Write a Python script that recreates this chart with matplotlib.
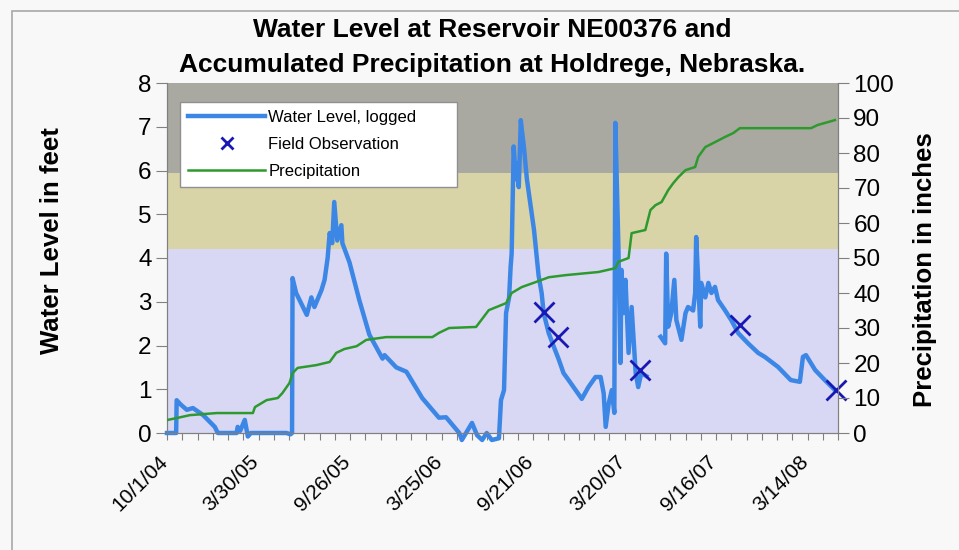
import numpy as np
import matplotlib
matplotlib.use("Agg")
import matplotlib.pyplot as plt
from matplotlib.lines import Line2D
from matplotlib.patches import Rectangle
from matplotlib.transforms import ScaledTranslation

plt.rcParams['font.family'] = ['Liberation Sans', 'DejaVu Sans']

# logged water level (feet)
level_dates = [
    "2004-10-01", "2004-10-19", "2004-10-20", "2004-10-28", "2004-11-09", "2004-11-21",
    "2004-12-11", "2005-01-03", "2005-01-09", "2005-02-15", "2005-02-17", "2005-02-22",
    "2005-03-03", "2005-03-09", "2005-03-15", "2005-05-24", "2005-06-01", "2005-06-04",
    "2005-06-05", "2005-06-12", "2005-07-03", "2005-07-12", "2005-07-18", "2005-08-01",
    "2005-08-07", "2005-08-13", "2005-08-17", "2005-08-22", "2005-08-26", "2005-09-01",
    "2005-09-09", "2005-09-11", "2005-09-25", "2005-10-14", "2005-11-03", "2005-11-29",
    "2005-12-03", "2005-12-26", "2006-01-15", "2006-02-15", "2006-03-20", "2006-04-03",
    "2006-04-29", "2006-05-04", "2006-05-24", "2006-06-03", "2006-06-13", "2006-06-22",
    "2006-07-02", "2006-07-16", "2006-07-20", "2006-07-26", "2006-07-30", "2006-08-05",
    "2006-08-08", "2006-08-10", "2006-08-14", "2006-08-18", "2006-08-20", "2006-08-24",
    "2006-08-28", "2006-08-30", "2006-09-03", "2006-09-09", "2006-09-23", "2006-10-02",
    "2006-10-08", "2006-10-12", "2006-10-22", "2006-11-01", "2006-11-11", "2006-11-20",
    "2006-11-30", "2006-12-14", "2006-12-26", "2007-01-08", "2007-01-22", "2007-02-01",
    "2007-02-07", "2007-02-11", "2007-02-17", "2007-02-23", "2007-02-28", "2007-03-02",
    "2007-03-08", "2007-03-12", "2007-03-14", "2007-03-18", "2007-03-22", "2007-03-28",
    "2007-04-03", "2007-04-11", "2007-04-16", "2007-04-22", "2007-05-02", "2007-05-15",
    "2007-05-30", "2007-06-08", "2007-06-10", "2007-06-14", "2007-06-20", "2007-06-26",
    "2007-06-30", "2007-07-10", "2007-07-18", "2007-07-23", "2007-08-02", "2007-08-06",
    "2007-08-08", "2007-08-12", "2007-08-16", "2007-08-18", "2007-08-26", "2007-09-01",
    "2007-09-07", "2007-09-14", "2007-09-20", "2007-10-04", "2007-10-16", "2007-10-30",
    "2007-11-18", "2007-12-08", "2007-12-21", "2008-01-16", "2008-02-10", "2008-02-28",
    "2008-03-05", "2008-03-11", "2008-03-29", "2008-04-17", "2008-05-07",
]
level_values = [
    0.0, 0.0, 0.75, 0.65, 0.53, 0.57,
    0.41, 0.14, 0.0, 0.0, 0.14, 0.05,
    0.3, -0.08, 0.0, 0.0, -0.03, 0.0,
    3.54, 3.2, 2.7, 3.1, 2.88, 3.27,
    3.5, 4.0, 4.57, 4.34, 5.28, 4.4,
    4.75, 4.34, 3.9, 3.05, 2.25, 1.7,
    1.78, 1.5, 1.4, 0.8, 0.35, 0.36,
    0.0, -0.16, 0.23, -0.05, -0.16, 0.0,
    -0.16, -0.12, 0.75, 0.98, 2.74, 3.1,
    3.8, 4.1, 6.55, 5.8, 6.17, 5.62,
    7.15, 6.93, 6.55, 5.8, 4.64, 3.6,
    3.2, 2.74, 2.28, 1.97, 1.67, 1.37,
    1.21, 0.98, 0.78, 1.05, 1.28, 1.28,
    0.91, 0.14, 0.68, 0.98, 0.46, 7.09,
    4.25, 1.6, 3.73, 2.74, 3.5, 1.83,
    2.88, 1.37, 1.05, 1.37, 1.3, np.nan,
    2.2, 2.05, 4.1, 2.43, 2.74, 3.5,
    2.58, 2.13, 2.74, 2.88, 2.8, 3.2,
    4.48, 3.5, 2.43, 3.43, 3.1, 3.43,
    3.2, 3.34, 3.04, 2.8, 2.58, 2.28,
    2.05, 1.83, 1.74, 1.51, 1.21, 1.17,
    1.74, 1.78, 1.44, 1.21, 0.98,
]

# field observations (feet)
obs_dates = ["2006-10-12", "2006-11-09", "2007-04-20", "2007-11-02", "2008-05-09"]
obs_values = [2.77, 2.2, 1.44, 2.47, 0.98]

# accumulated precipitation (inches)
precip_dates = [
    "2004-10-01", "2004-10-21", "2004-11-15", "2005-01-07", "2005-03-19", "2005-03-23",
    "2005-04-15", "2005-05-07", "2005-05-16", "2005-05-30", "2005-06-05", "2005-06-15",
    "2005-07-22", "2005-08-17", "2005-08-30", "2005-09-15", "2005-10-09", "2005-10-28",
    "2005-12-06", "2006-03-07", "2006-03-20", "2006-04-09", "2006-06-01", "2006-06-26",
    "2006-07-30", "2006-08-10", "2006-08-30", "2006-09-26", "2006-10-22", "2006-11-24",
    "2007-01-28", "2007-03-02", "2007-03-08", "2007-03-28", "2007-04-03", "2007-04-30",
    "2007-05-10", "2007-05-20", "2007-06-01", "2007-06-14", "2007-06-24", "2007-07-04",
    "2007-07-18", "2007-08-06", "2007-08-12", "2007-08-26", "2007-09-14", "2007-10-04",
    "2007-10-20", "2007-11-02", "2008-03-21", "2008-04-03", "2008-05-07",
]
precip_values = [
    3.7, 4.3, 5.1, 5.7, 5.7, 7.4,
    9.4, 10.0, 11.4, 14.3, 17.1, 18.6,
    19.4, 20.3, 22.9, 24.0, 24.8, 26.6,
    27.4, 27.4, 28.6, 30.0, 30.3, 35.1,
    37.1, 40.0, 41.7, 43.1, 44.5, 45.1,
    46.0, 47.1, 48.9, 50.0, 57.1, 58.0,
    63.7, 65.1, 66.0, 69.4, 71.4, 73.1,
    75.1, 76.0, 78.9, 81.7, 83.1, 84.6,
    85.7, 87.1, 87.1, 88.0, 89.4,
]

# background bands (feet)
band_edges = [0, 4.2, 5.95, 8]
band_colors = ['#d8d8f4', '#d8d4a8', '#a9a9a1']

start = np.datetime64("2004-10-01")
end = np.datetime64("2008-05-13")

W, H = 959, 550
fig = plt.figure(figsize=(W / 100, H / 100), dpi=100, facecolor='#f8f8f8')
fig.patches.append(Rectangle((12 / W, -0.1), 1.2, 1 - 11 / H + 0.1,
                             transform=fig.transFigure, fill=False,
                             edgecolor='#a8a8a8', lw=1.2))

ax = fig.add_axes([167 / W, 1 - 433 / H, 671 / W, 350 / H])
ax.patch.set_visible(False)
for i in range(3):
    ax.axhspan(band_edges[i], band_edges[i + 1], color=band_colors[i], lw=0, zorder=0)

ld = np.array(level_dates, dtype='datetime64[D]')
ax.plot(ld, level_values, color='#3c87e6', lw=3.2, zorder=2, clip_on=False)
ax.plot(np.array(obs_dates, dtype='datetime64[D]'), obs_values, 'x',
        color='#1818b4', ms=15, mew=2, zorder=4, clip_on=False)

ax.set_ylim(0, 8)
ax.set_xlim(start, end)
ax.set_yticks(range(0, 9))

ticks = [start + np.timedelta64(30 * k, 'D') for k in range(0, 45)]
labels = []
for k, t in enumerate(ticks):
    if k % 6 == 0:
        d = t.astype(object)
        labels.append(f"{d.month}/{d.day}/{d.year % 100:02d}")
    else:
        labels.append("")
ax.set_xticks(ticks)
ax.set_xticklabels(labels, rotation=45, ha='right', va='top', rotation_mode='anchor')

ax2 = ax.twinx()
ax2.plot(np.array(precip_dates, dtype='datetime64[D]'), precip_values,
         color='#2e9a2e', lw=1.8, zorder=3)
ax2.set_ylim(0, 100)
ax2.set_yticks(range(0, 101, 10))

for a in (ax, ax2):
    a.spines['top'].set_visible(False)
    for s in ('left', 'right', 'bottom'):
        a.spines[s].set_color('#808080')
    a.tick_params(axis='y', labelsize=17.5, length=8, color='#808080', pad=3)
    a.tick_params(axis='x', labelsize=15, length=5, color='#808080', pad=9)

shift = ScaledTranslation(-9 / 100, 0, fig.dpi_scale_trans)
for lab in ax.get_xticklabels():
    lab.set_transform(lab.get_transform() + shift)

fig.text(52 / W, 1 - 241 / H, "Water Level in feet", rotation=90,
         ha='center', va='center', fontsize=18.5, fontweight='bold')
fig.text(925 / W, 1 - 270 / H, "Precipitation in inches", rotation=90,
         ha='center', va='center', fontsize=18.5, fontweight='bold')

handles = [
    Line2D([], [], color='#3c87e6', lw=3.2),
    Line2D([], [], color='#1818b4', marker='x', ls='none', ms=9, mew=2),
    Line2D([], [], color='#2e9a2e', lw=1.8),
]
leg = ax2.legend(handles, ["Water Level, logged", "Field Observation", "Precipitation"],
                 loc='upper left', mode='expand',
                 bbox_to_anchor=(13 / 671, (433 - 102) / 350, 277 / 671, 0.0),
                 borderaxespad=0, fontsize=12, frameon=True, fancybox=False,
                 handlelength=4.6, handletextpad=0.2, labelspacing=0.7, borderpad=0.5)
leg.get_frame().set_edgecolor('#909090')
leg.get_frame().set_facecolor('white')
leg.get_frame().set_alpha(1)

fig.text(492 / W, 1 - 30 / H, "Water Level at Reservoir NE00376 and",
         ha='center', va='center', fontsize=19, fontweight='bold')
fig.text(492 / W, 1 - 65 / H, "Accumulated Precipitation at Holdrege, Nebraska.",
         ha='center', va='center', fontsize=19, fontweight='bold')

fig.savefig("out.png", dpi=100, facecolor=fig.get_facecolor())
